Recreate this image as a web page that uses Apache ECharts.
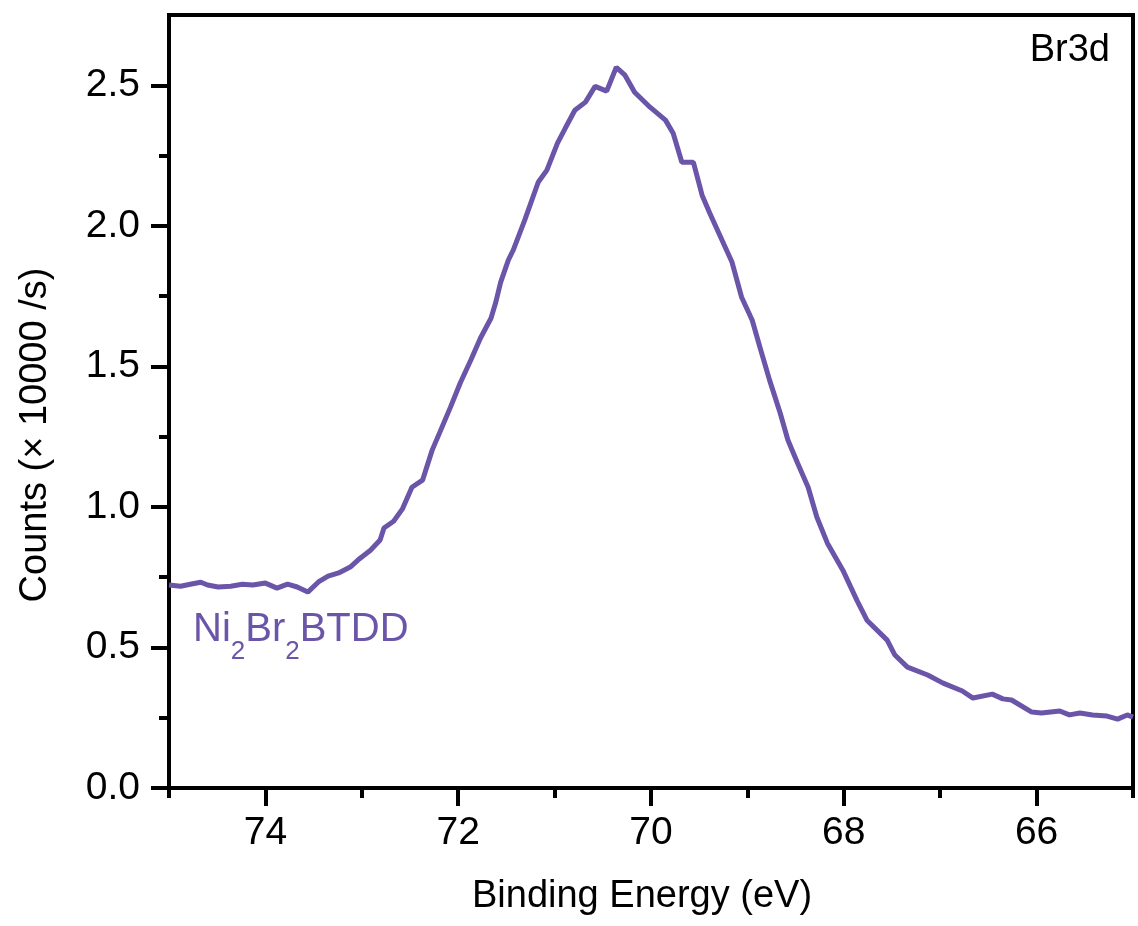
<!DOCTYPE html>
<html>
<head>
<meta charset="utf-8">
<script src="https://cdn.jsdelivr.net/npm/echarts@6/dist/echarts.min.js"></script>
<style>html,body{margin:0;padding:0;background:#fff}#c{width:1138px;height:926px}</style>
</head>
<body>
<div id="c"></div>
<script>
const energy = [75.00,74.88,74.78,74.67,74.60,74.49,74.36,74.24,74.13,74.00,73.88,73.77,73.67,73.56,73.45,73.35,73.24,73.12,73.04,72.91,72.81,72.77,72.67,72.58,72.48,72.37,72.27,72.19,72.08,71.98,71.87,71.77,71.66,71.61,71.56,71.48,71.43,71.31,71.17,71.08,70.97,70.89,70.79,70.68,70.58,70.46,70.36,70.27,70.17,70.01,69.85,69.77,69.68,69.56,69.47,69.39,69.23,69.16,69.06,68.95,68.87,68.77,68.66,68.58,68.48,68.37,68.28,68.17,68.01,67.86,67.76,67.55,67.47,67.34,67.13,66.97,66.77,66.66,66.46,66.35,66.26,66.05,65.95,65.76,65.66,65.55,65.42,65.27,65.16,65.06,65.00];
const counts = [0.722,0.718,0.725,0.732,0.722,0.715,0.718,0.725,0.722,0.729,0.711,0.725,0.715,0.697,0.733,0.754,0.765,0.786,0.811,0.846,0.882,0.925,0.949,0.992,1.070,1.095,1.202,1.266,1.355,1.440,1.522,1.600,1.671,1.728,1.799,1.878,1.913,2.020,2.155,2.198,2.294,2.347,2.411,2.440,2.496,2.479,2.564,2.536,2.475,2.422,2.376,2.329,2.226,2.226,2.109,2.045,1.924,1.871,1.746,1.664,1.568,1.451,1.334,1.238,1.156,1.070,0.964,0.871,0.775,0.665,0.597,0.526,0.473,0.430,0.402,0.373,0.345,0.320,0.334,0.317,0.313,0.270,0.267,0.274,0.260,0.267,0.260,0.256,0.245,0.260,0.252];
const xMajorTicks = [66,68,70,72,74];
const xMinorTicks = [65,67,69,71,73,75];
const yMajorTicks = [0,0.5,1.0,1.5,2.0,2.5];
const yMinorTicks = [0.25,0.75,1.25,1.75,2.25];
const seriesName = 'Ni2Br2BTDD';
const xTitle = 'Binding Energy (eV)';
const yTitle = 'Counts (× 10000 /s)';

const FONT = "'Liberation Sans', Arial, Helvetica, sans-serif";
const PURPLE = '#6A55A8';
const chart = echarts.init(document.getElementById('c'), null, {renderer: 'canvas'});
const axLine = {show: true, lineStyle: {color: '#000', width: 4}};
chart.setOption({
  animation: false,
  backgroundColor: '#fff',
  grid: {left: 169, right: 5, top: 15, bottom: 138, show: true, borderColor: '#000', borderWidth: 4, backgroundColor: 'transparent'},
  xAxis: [{
    type: 'value', min: 65, max: 75, inverse: true, interval: 1,
    axisLine: axLine,
    axisTick: {show: true, customValues: xMajorTicks, length: 18, lineStyle: {color: '#000', width: 4}},
    axisLabel: {show: true, customValues: xMajorTicks, fontFamily: FONT, fontSize: 39, color: '#000', margin: 26, formatter: v => String(v)},
    splitLine: {show: false}
  }, {
    type: 'value', min: 65, max: 75, inverse: true, interval: 1, position: 'bottom',
    axisLine: {show: false},
    axisTick: {show: true, customValues: xMinorTicks, length: 10, lineStyle: {color: '#000', width: 4}},
    axisLabel: {show: false}, splitLine: {show: false}
  }],
  yAxis: [{
    type: 'value', min: 0, max: 2.75, interval: 0.25,
    axisLine: axLine,
    axisTick: {show: true, customValues: yMajorTicks, length: 18, lineStyle: {color: '#000', width: 4}},
    axisLabel: {show: true, customValues: yMajorTicks, fontFamily: FONT, fontSize: 39, color: '#000', margin: 29, formatter: v => v.toFixed(1)},
    splitLine: {show: false}
  }, {
    type: 'value', min: 0, max: 2.75, interval: 0.25, position: 'left',
    axisLine: {show: false},
    axisTick: {show: true, customValues: yMinorTicks, length: 10, lineStyle: {color: '#000', width: 4}},
    axisLabel: {show: false}, splitLine: {show: false}
  }],
  graphic: [{
    type: 'text', x: 642, y: 897,
    style: {text: xTitle, fontFamily: FONT, fontSize: 38, fill: '#000', align: 'center', verticalAlign: 'middle'}
  }, {
    type: 'text', x: 36, y: 435, rotation: Math.PI / 2,
    style: {text: yTitle, fontFamily: FONT, fontSize: 38, fill: '#000', align: 'center', verticalAlign: 'middle'}
  }, {
    type: 'text', right: 28, top: 32,
    style: {text: 'Br3d', fontFamily: FONT, fontSize: 38, fill: '#000'}
  }, {
    type: 'text', left: 193, top: 595,
    style: {
      text: '{m|Ni}{s|2}{m|Br}{s|2}{m|BTDD}',
      rich: {
        m: {fontFamily: FONT, fontSize: 40, lineHeight: 40, fill: PURPLE, color: PURPLE},
        s: {fontFamily: FONT, fontSize: 26, lineHeight: 26, fill: PURPLE, color: PURPLE, padding: [44, 0, 0, 0]}
      }
    }
  }],
  series: [{
    name: seriesName, type: 'line', xAxisIndex: 0, yAxisIndex: 0,
    data: energy.map((e, i) => [e, counts[i]]),
    showSymbol: false, symbol: 'none',
    lineStyle: {color: PURPLE, width: 5}, clip: true
  }]
});
</script>
</body>
</html>
